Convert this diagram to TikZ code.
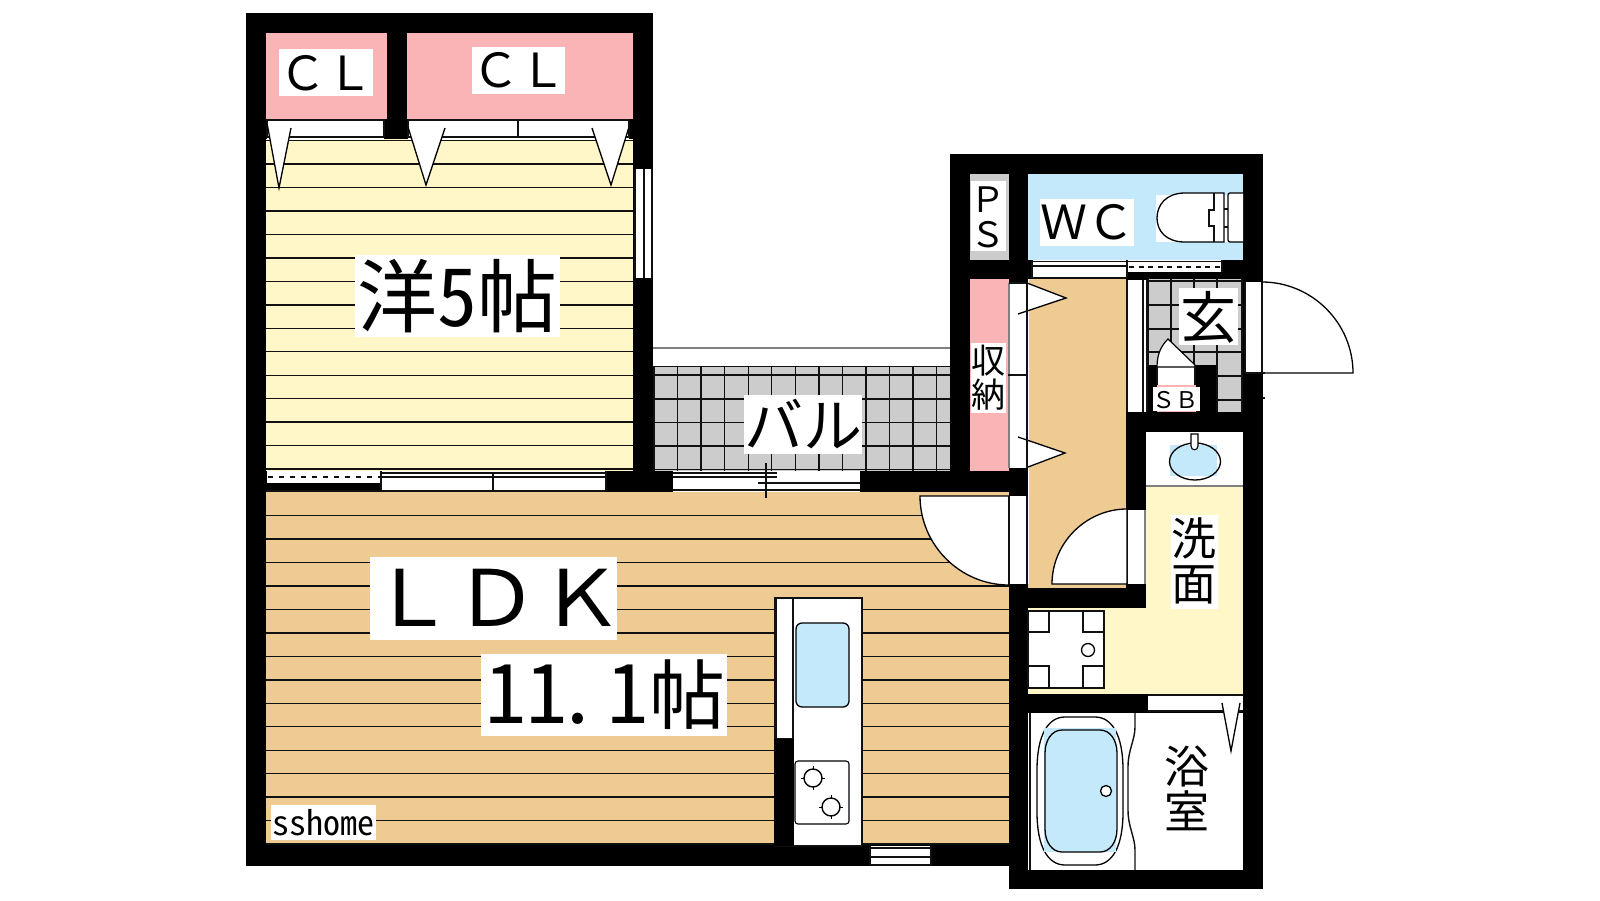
\documentclass[tikz,border=0pt]{standalone}
\usepackage{fontspec}
\newfontfamily\jp{Noto Sans CJK JP}
\newfontfamily\jph{Noto Sans CJK JP}[CharacterWidth=Half]
\newfontfamily\jpw{Noto Sans CJK JP}[FakeStretch=1.08]
\definecolor{cpink}{HTML}{FAB4B6}
\definecolor{cyel}{HTML}{FFF7C8}
\definecolor{corg}{HTML}{EFCB94}
\definecolor{cblue}{HTML}{C3E9FB}
\definecolor{cgry}{HTML}{CCCCCC}
\definecolor{cedge}{HTML}{111111}
\newcommand{\rf}[5]{\fill[#1] (#2,#3) rectangle (#4,#5);}
\newcommand{\fs}[1]{\fontsize{#1}{#1}\selectfont}
\tikzset{
  ln/.style={line width=1.4pt,color=cedge},
  strip/.style={line width=1.1pt,draw=cedge,fill=white},
  wing/.style={line width=1.3pt,draw=black,fill=white,line join=miter},
  room/.style={inner sep=0pt,outer sep=0pt,text=black,align=center},
}
\begin{document}
\begin{tikzpicture}[x=1pt,y=-1pt]
\useasboundingbox (0,0) rectangle (1600,900);
\fill[white] (0,0) rectangle (1600,900);
% walls
\rf{black}{246}{13}{653}{492}
\rf{black}{246}{471}{1009}{866}
\rf{black}{950}{154}{1263}{492}
\rf{black}{1009}{492}{1263}{889}
% closets
\rf{cpink}{266}{33}{387}{119}
\rf{cpink}{407}{33}{633}{119}
% western room
\rf{cyel}{266}{139}{633}{471}
\foreach \n in {0,...,14} {\draw[ln] (266,140.7+23.45*\n) -- (633,140.7+23.45*\n);}
\rf{white}{267}{119.5}{384}{140}
\rf{white}{408}{119.5}{629}{140}
\draw[ln] (266,120) -- (385,120) (407,120) -- (630,120);
\draw[strip] (267,120) rectangle (384,137);
\draw[strip] (408,120) rectangle (518,137);
\draw[strip] (518,120) rectangle (629,137);
\draw[ln] (266,140.7) -- (633,140.7);
\draw[wing] (267,123) -- (279,188) -- (291,128);
\draw[wing] (408,127) -- (426,185) -- (445,128);
\draw[wing] (629,127) -- (611,185) -- (592,128);
% east window of the western room
\rf{white}{634}{169}{652}{278}
\draw[ln] (635,169) -- (635,278) (644,169) -- (644,278) (652,169) -- (652,278);
% window between western room and LDK
\rf{white}{267}{471}{606}{492}
\rf{black}{267}{483}{381}{490}
\draw[ln,dashed,dash pattern=on 5pt off 6pt] (268,477) -- (380,477);
\draw[ln] (381,473) -- (606,473) (381,477) -- (606,477) (266,491) -- (606,491);
\draw[ln] (381,471) -- (381,491) (493,473) -- (493,491) (606,471) -- (606,491);
% balcony
\rf{white}{653}{348}{950}{367}
\draw[ln,color=gray] (653,348) -- (950,348);
\rf{cgry}{653}{367}{950}{471}
\foreach \n in {0,...,12} {\draw[ln] (654+23.55*\n,366.7) -- (654+23.55*\n,471);}
\foreach \yy in {366.7,375,399,422.3,446,469.3} {\draw[ln] (653,\yy) -- (950,\yy);}
% balcony door
\rf{white}{673}{471}{860}{492}
\draw[ln] (673,473) -- (777,473) (673,477) -- (777,477) (758,483) -- (860,483) (673,490) -- (860,490);
\draw[ln] (766,463) -- (766,498);
% LDK
\rf{corg}{266}{492}{1009}{845}
\foreach \n in {0,...,14} {\draw[ln] (266,515.7+23.45*\n) -- (1009,515.7+23.45*\n);}
\draw[ln] (766,492) -- (766,498);
% door LDK
\draw[wing] (920,496) .. controls (920,545) and (960,585) .. (1009,585) -- (1009,496) -- cycle;
% kitchen
\draw[strip] (775,598) rectangle (862,846);
\draw[strip] (776,598) rectangle (793,739);
\rf{black}{774}{739}{794}{846}
\draw[line width=1.3pt,draw=black,fill=cblue,rounded corners=6pt] (796,623) rectangle (849,707);
\draw[line width=1.1pt,draw=black,rounded corners=3pt] (795,761) rectangle (849,824);
\foreach \cx/\cy in {813/778,831/807} {
  \draw[line width=1.4pt] (\cx,\cy) circle (9);
  \draw[line width=1pt] (\cx-12,\cy) -- (\cx-8,\cy) (\cx+8,\cy) -- (\cx+12,\cy) (\cx,\cy-12) -- (\cx,\cy-8) (\cx,\cy+8) -- (\cx,\cy+12);
}
% south window
\rf{white}{870}{846}{931}{866}
\draw[ln] (870,848) -- (931,848) (870,857) -- (931,857) (870,865) -- (931,865) (870,846) -- (870,866) (931,846) -- (931,866);
% PS
\rf{cgry}{970}{174}{1009}{260}
\rf{white}{971}{181}{1006}{251}
% storage
\rf{cpink}{970}{279}{1009}{471}
\rf{white}{971}{343}{1006}{413}
% WC
\rf{cblue}{1028}{174}{1243}{260}
\rf{white}{1040}{199}{1134}{246}
\rf{white}{1156}{195}{1243}{242}
\draw[line width=1.3pt,fill=white] (1224,193) -- (1185,193) .. controls (1166,193) and (1157,205) .. (1157,218) .. controls (1157,231) and (1166,242) .. (1185,242) -- (1224,242) -- cycle;
\draw[ln] (1214,193) -- (1214,210) -- (1209,210) -- (1209,226) -- (1214,226) -- (1214,242);
\draw[ln] (1224,209) -- (1228,209) (1224,227) -- (1228,227);
\draw[line width=1.3pt,fill=white,rounded corners=2pt] (1243,193) -- (1228,193) -- (1228,242) -- (1243,242);
% door under the WC
\rf{white}{1032}{260}{1222}{278}
\rf{black}{1127}{272}{1243}{280}
\draw[ln] (1032,261.5) -- (1222,261.5) (1032,266) -- (1127,266) (1032,278) -- (1127,278) (1032,260) -- (1032,278) (1127,260) -- (1127,278) (1222,260) -- (1222,272);
\draw[ln,dashed,dash pattern=on 5pt off 4.5pt] (1129,267) -- (1222,267);
% hall
\rf{corg}{1028}{279}{1126}{588}
\draw[line width=.8pt,color=white] (1028,279) -- (1028,588);
\rf{white}{1010}{283}{1027}{468}
\draw[ln,color=gray] (1009,283) -- (1009,468);
\draw[wing] (1027,283) -- (1066,298) -- (1018,314);
\draw[wing] (1018,437) -- (1065,453) -- (1028,467);
\draw[ln] (1027,283) -- (1027,468) (1009,283) -- (1027,283) (1008,375) -- (1027,375);
% door strip LDK - hall
\rf{white}{1009}{496}{1027}{585}
\draw[ln] (1009,496) -- (1009,585) (1027,496) -- (1027,585);
% genkan
\rf{white}{1127}{280}{1147}{412}
\draw[ln] (1127,280) -- (1127,412) (1143,280) -- (1143,412) (1147,280) -- (1147,412);
\rf{cgry}{1148}{279}{1243}{412}
\foreach \xx in {1148,1171,1194,1217,1242} {\draw[ln] (\xx,279) -- (\xx,412);}
\foreach \yy in {281,305,329,352,376,400} {\draw[ln] (1148,\yy) -- (1243,\yy);}
\rf{white}{1179}{288}{1238}{345}
% shoe box
\rf{black}{1148}{365}{1216}{412}
\rf{white}{1157}{365}{1195}{385}
\rf{cpink}{1157}{385}{1196}{412}
\rf{white}{1153}{387}{1200}{411}
\draw[line width=1.2pt,fill=white] (1157,367) .. controls (1157,353) and (1162,345) .. (1168,339) -- (1195,365) -- (1195,367) -- cycle;
\draw[ln] (1157,367) -- (1157,385) (1195,367) -- (1195,385);
% wall foot under the genkan
\rf{black}{1126}{412}{1263}{432}
% entrance door
\draw[wing] (1262,282) .. controls (1312,282) and (1353,323) .. (1353,373) -- (1245,373);
\rf{white}{1245}{282}{1262}{373}
\draw[ln] (1245,282) -- (1245,373) (1262,282) -- (1262,373) (1245,373) -- (1265,373);
\draw[ln] (1263,398) -- (1265,398);
% washroom
\rf{white}{1146}{432}{1243}{486}
\draw[ln,color=gray] (1146,486) -- (1243,486);
\rf{cyel}{1146}{487}{1243}{694}
\rf{cyel}{1028}{608}{1243}{694}
\rf{black}{1126}{412}{1146}{510}
\rf{cblue}{1170}{445}{1217}{476}
\draw[line width=1.3pt] (1195,461.5) ellipse (25.5 and 18.5);
\draw[line width=1.1pt,fill=white] (1191,434) -- (1198,434) -- (1198,446) .. controls (1198,451) and (1191,451) .. (1191,446) -- cycle;
\rf{white}{1127}{510}{1145}{584}
\draw[ln,color=gray] (1145,510) -- (1145,584);
\draw[ln] (1127,510) -- (1127,584);
\fill[corg] (1028,584) rectangle (1126,588);
\draw[wing] (1052,584) .. controls (1052,543) and (1086,509) .. (1127,509) -- (1127,584) -- cycle;
\rf{black}{1009}{588}{1146}{608}
\rf{black}{1009}{584}{1028}{608}
% washing machine place
\draw[line width=1.1pt,draw=cedge,fill=white] (1028,611) rectangle (1104,688);
\draw[ln] (1028,632) -- (1049,632) -- (1049,611) (1083,611) -- (1083,632) -- (1104,632) (1028,666) -- (1049,666) -- (1049,688) (1083,688) -- (1083,666) -- (1104,666);
\draw[line width=1.3pt] (1088,650) circle (6.5);
% wall and door of the bath
\rf{white}{1028}{713}{1243}{870}
\rf{black}{1009}{694}{1148}{713}
\rf{white}{1148}{694}{1243}{712}
\draw[ln] (1148,695) -- (1243,695) (1148,711) -- (1243,711);
\draw[wing] (1222,703) -- (1231,751) -- (1240,703);
% bath
\draw[ln] (1030,713) -- (1030,870);
\draw[ln] (1135,713) -- (1135,727) .. controls (1135,740) and (1128,750) .. (1128,767) -- (1128,810) .. controls (1128,827) and (1135,837) .. (1135,850) -- (1135,870);
\draw[line width=1.3pt] (1065,717) -- (1095,717) .. controls (1112,717) and (1123,735) .. (1123,770) -- (1123,812) .. controls (1123,847) and (1112,865) .. (1095,865) -- (1065,865) .. controls (1048,865) and (1037,847) .. (1037,812) -- (1037,770) .. controls (1037,735) and (1048,717) .. (1065,717) -- cycle;
\rf{cblue}{1044}{728}{1116}{852}
\draw[line width=1.3pt] (1062,730) -- (1100,730) .. controls (1110,730) and (1117,740) .. (1117,753) -- (1117,829) .. controls (1117,842) and (1110,852) .. (1100,852) -- (1062,852) .. controls (1052,852) and (1045,842) .. (1045,829) -- (1045,753) .. controls (1045,740) and (1052,730) .. (1062,730) -- cycle;
\draw[line width=1.3pt,fill=white] (1106,791) circle (5.5);
% labels
\rf{white}{279}{49}{373}{96}
\node[room,font=\jp\fs{47}] (cla) at (326.5,73) {ＣＬ};
\rf{white}{472}{47}{565}{94}
\node[room,font=\jp\fs{47}] (clb) at (519,70) {ＣＬ};
\rf{white}{355}{255}{560}{337}
\node[room,font=\jp\fs{80}] (yo) at (457,296) {洋{\jph 5}帖};
\rf{white}{744}{395}{862}{454}
\node[room,font=\jp\fs{59}] (bal) at (803,424) {バル};
\node[room,font=\jp\fs{35}] (ps) at (988,217) {Ｐ\\Ｓ};
\node[room,font=\jp\fs{34}] (sn) at (988,378) {収\\納};
\node[room,font=\jp\fs{47}] (wc) at (1087,222) {ＷＣ};
\node[room,font=\jp\fs{56}] (gen) at (1208,317) {玄};
\node[room,font=\jp\fs{23}] (sb) at (1175,400) {ＳＢ};
\rf{white}{1171}{515}{1218}{609}
\node[room,font=\jp\fs{45}] (sen) at (1194,561) {洗\\面};
\node[room,font=\jp\fs{45}] (yoku) at (1187,788) {浴\\室};
\rf{white}{370}{557}{617}{640}
\node[room,font=\jpw\fs{78}] (ldk) at (497,598) {ＬＤＫ};
\rf{white}{481}{654}{727}{736}
\node[room,font=\jph\fs{82}] (tsubo) at (605,695) {11\kern-9.5pt.\kern9.5pt 1{\jp\fs{76}帖}};
\rf{white}{271}{805}{376}{840}
\node[room,font=\jph\fs{34}] (ss) at (323.5,823) {sshome};
\end{tikzpicture}
\end{document}
